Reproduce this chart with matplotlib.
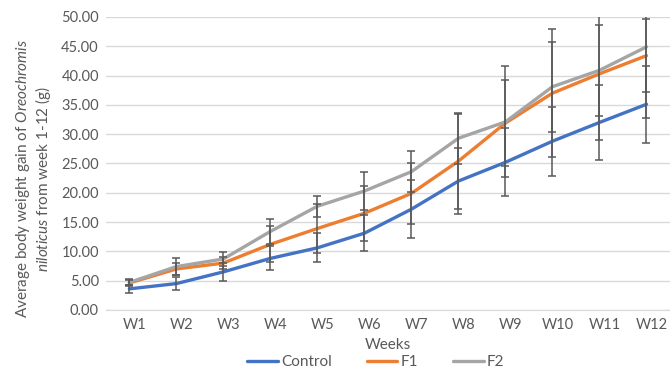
import matplotlib.pyplot as plt
import matplotlib.transforms as mtransforms
import numpy as np

################################################################### data

weeks = ['W1', 'W2', 'W3', 'W4', 'W5', 'W6', 'W7', 'W8', 'W9', 'W10', 'W11', 'W12']

control = [3.6, 4.5, 6.5, 8.8, 10.6, 13.1, 17.2, 22.0, 25.2, 28.8, 32.0, 35.1]
f1 = [4.6, 7.0, 8.0, 11.2, 13.9, 16.5, 19.9, 25.4, 31.9, 37.0, 40.3, 43.4]
f2 = [4.7, 7.4, 8.7, 13.4, 17.7, 20.3, 23.6, 29.3, 32.1, 38.1, 40.9, 44.9]

control_err = [0.7, 1.15, 1.5, 2.05, 2.5, 3.05, 4.95, 5.7, 5.8, 5.9, 6.4, 6.55]
f1_err = [0.5, 1.0, 1.0, 3.05, 4.1, 4.7, 5.2, 8.1, 7.3, 10.95, 11.3, 6.2]
f2_err = [0.5, 1.5, 1.25, 2.1, 1.8, 3.3, 3.5, 4.35, 9.45, 7.65, 7.8, 12.1]

################################################################### style

plt.rcParams['font.family'] = ['Lato', 'DejaVu Sans']
plt.rcParams['mathtext.fontset'] = 'custom'
plt.rcParams['mathtext.rm'] = 'Lato'
plt.rcParams['mathtext.it'] = 'Lato:italic'

TEXT = '#595959'
GRID = '#d9d9d9'

################################################################### figure

fig = plt.figure(figsize=(6.7, 3.69), dpi=100)
ax = fig.add_axes([0.158, 0.160, 0.842, 0.794])

x = np.arange(len(weeks))
series = [('Control', control, control_err, '#4472C4'),
          ('F1', f1, f1_err, '#ED7D31'),
          ('F2', f2, f2_err, '#A5A5A5')]

for name, vals, err, col in series:
    ax.plot(x, vals, color=col, lw=2.4, label=name, zorder=3, solid_capstyle='round')
    ax.errorbar(x, vals, yerr=err, fmt='none', ecolor=TEXT, elinewidth=1.1,
                capsize=3, capthick=1.1, zorder=4)

ax.set_xlim(-0.5, 11.5)
ax.set_ylim(0, 50)
ax.set_yticks(np.arange(0, 51, 5))
ax.set_yticklabels(['{:.2f}'.format(v) for v in np.arange(0, 51, 5)])
ax.set_xticks(x)
ax.set_xticklabels(weeks)

ax.grid(axis='y', color=GRID, lw=1)
ax.set_axisbelow(True)
for s in ['top', 'right', 'left']:
    ax.spines[s].set_visible(False)
ax.spines['bottom'].set_color(GRID)
ax.tick_params(length=0, labelsize=10.5, labelcolor=TEXT, pad=5)
ax.tick_params(axis='x', pad=6)

# week labels sit a few pixels right of the points in the original
shift = mtransforms.ScaledTranslation(5 / 100, 0, fig.dpi_scale_trans)
for lab in ax.get_xticklabels():
    lab.set_transform(lab.get_transform() + shift)

ax.set_xlabel('Weeks', fontsize=11, color=TEXT, labelpad=4)
fig.text(0.050, 0.515,
         'Average body weight gain of $Oreochromis$\n$niloticus$ from week 1-12 (g)',
         rotation=90, ha='center', va='center', fontsize=11, color=TEXT,
         multialignment='center', linespacing=1.1)

fig.legend(loc='center', bbox_to_anchor=(0.561, 0.018), ncol=3, frameon=False,
           fontsize=11, handlelength=2.0, handletextpad=0.2, columnspacing=2.3,
           labelcolor=TEXT)

fig.savefig('out.png', dpi=100)
